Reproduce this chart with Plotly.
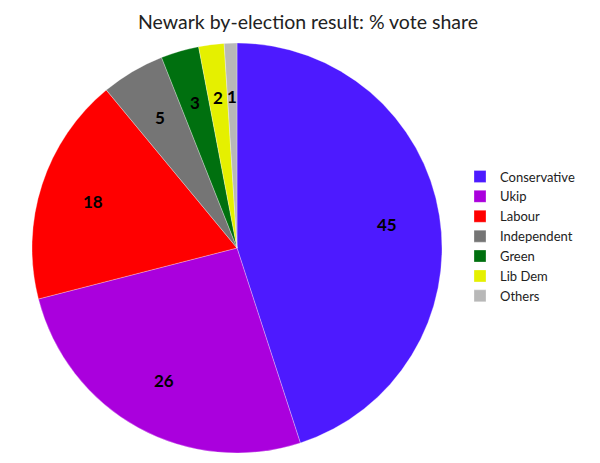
import math
import plotly.graph_objects as go

parties = ['Conservative', 'Ukip', 'Labour', 'Independent', 'Green', 'Lib Dem', 'Others']
vote_share = [45, 26, 18, 5, 3, 2, 1]
colours = ['#4d1aff', '#aa00dd', '#ff0000', '#757575', '#00700f', '#e5f000', '#b8b8b8']

W, H = 600, 463
# pie geometry in pixels (page is drawn with an 8px body offset)
cx, cy, r = 229, 240, 205
label_r = 0.74 * r

fig = go.Figure()
fig.add_trace(go.Pie(
    labels=parties,
    values=vote_share,
    sort=False,
    direction='clockwise',
    rotation=0,
    marker=dict(colors=colours, line=dict(color='white', width=0.3)),
    textinfo='none',
    hoverinfo='label+percent',
    domain=dict(x=[(cx - r) / W, (cx + r) / W], y=[1 - (cy + r) / H, 1 - (cy - r) / H]),
))

# value labels at a fixed radius, middle of each slice
total = sum(vote_share)
start = 0
for v in vote_share:
    mid = (start + v / 2) / total * 2 * math.pi
    start += v
    px = cx + label_r * math.sin(mid)
    py = cy - label_r * math.cos(mid)
    fig.add_annotation(x=px / W, y=1 - py / H, xref='paper', yref='paper',
                       xanchor='center', yanchor='middle',
                       text=f'<b>{v}</b>', showarrow=False,
                       font=dict(family='Lato', size=17, color='black'))

fig.update_layout(
    width=W,
    height=H,
    margin=dict(l=0, r=0, t=0, b=0),
    paper_bgcolor='white',
    font=dict(family='Lato', color='#222'),
    title=dict(text='Newark by-election result: % vote share', x=0.5, xanchor='center',
               y=1 - 14 / H, yanchor='middle', font=dict(size=19.5, color='#222')),
    legend=dict(x=452 / W, xanchor='left', y=1 - 228.5 / H, yanchor='middle',
                font=dict(size=13, color='#222'), tracegroupgap=0),
)

fig.write_html('out.html')
